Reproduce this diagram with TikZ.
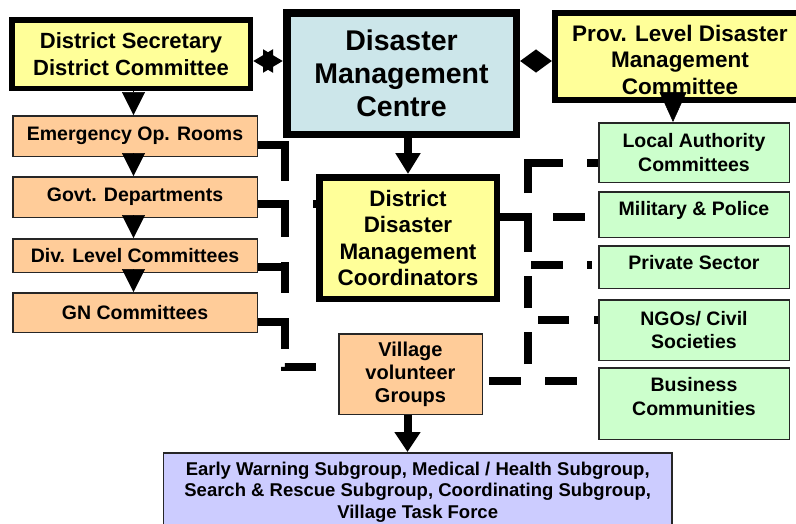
\documentclass[tikz,border=0pt]{standalone}
\usepackage{fontspec}
\setmainfont{Liberation Sans}
\usetikzlibrary{arrows.meta,positioning}

\definecolor{dsyellow}{HTML}{FFFF99}
\definecolor{dmcblue}{HTML}{CCE6EA}
\definecolor{peach}{HTML}{FFCC99}
\definecolor{mint}{HTML}{CCFFCC}
\definecolor{lavender}{HTML}{CCCCFF}

\begin{document}
\begin{tikzpicture}[x=1pt, y=-1pt,
    heavybox/.style={draw=black, inner sep=0pt, align=center},
    thinbox/.style={draw=black!85, line width=1.5pt, inner sep=0pt, align=center},
    leftbox/.style={thinbox, fill=peach, minimum width=244.5pt, font=\fontsize{19.5}{23.5}\selectfont\bfseries},
    rightbox/.style={thinbox, fill=mint, minimum width=190.5pt, font=\fontsize{19.5}{23.5}\selectfont\bfseries},
    boxtext/.style={inner sep=0pt, align=center, font=\fontsize{19.5}{23.7}\selectfont\bfseries},
    headonly/.style={line width=0.5pt, -{Triangle[length=23pt, width=23pt]}},
    linkline/.style={line width=7.5pt}
  ]
  \useasboundingbox (0,0) rectangle (796,523);
  \clip (0,0) rectangle (796,523);

  \node[heavybox, line width=5.5pt, fill=dsyellow, minimum width=238.5pt, minimum height=68.5pt,
        font=\fontsize{22}{27}\selectfont\bfseries] (ds) at (131,54) {District Secretary\\District Committee};
  \node[heavybox, line width=7.5pt, fill=dmcblue, minimum width=229.5pt, minimum height=121.5pt,
        font=\fontsize{28.5}{33}\selectfont\bfseries] (dmc) at (401.5,73.5) {Disaster\\Management\\Centre};
  \node[heavybox, line width=6pt, fill=dsyellow, minimum width=250pt, minimum height=87pt,
        font=\fontsize{22.5}{26.5}\selectfont\bfseries] (prov) at (680,56.5)
        {\rule{0pt}{22.5pt}Prov. Level Disaster\\Management\\Committee};
  \node[heavybox, line width=6.5pt, fill=dsyellow, minimum width=177.5pt, minimum height=121.5pt,
        font=\fontsize{22.4}{26.3}\selectfont\bfseries] (ddmc) at (408,238) {District\\Disaster\\Management\\Coordinators};

  \node[leftbox, minimum height=40.5pt] (eor) at (135,136) {Emergency Op. Rooms};
  \node[leftbox, minimum height=40.5pt] (govt) at (135,197) {Govt. Departments};
  \node[leftbox, minimum height=33.5pt] (div) at (135,255.5) {Div. Level Committees};
  \node[leftbox, minimum height=39.5pt] (gn) at (135,312.5) {GN Committees};

  \node[thinbox, fill=peach, minimum width=143.5pt, minimum height=80.5pt,
        font=\fontsize{20}{23}\selectfont\bfseries] (vil) at (410.5,374) {Village\\volunteer\\Groups};
  \node[thinbox, fill=lavender, minimum width=508.5pt, minimum height=78.5pt,
        font=\fontsize{18.5}{21.5}\selectfont\bfseries] (sub) at (417.7,492)
        {Early Warning Subgroup, Medical / Health Subgroup,\\Search \& Rescue Subgroup, Coordinating Subgroup,\\Village Task Force};

  \node[rightbox, minimum height=59.5pt] (la) at (694,152.5) {Local Authority\\Committees};
  \node[rightbox, minimum height=45.5pt] (mil) at (694,214.5) {};
  \node[rightbox, minimum height=42.5pt] (priv) at (694,267) {};
  \node[rightbox, minimum height=60.5pt] (ngo) at (694,330) {NGOs/ Civil\\Societies};
  \node[rightbox, minimum height=71.5pt] (bus) at (694,403.5) {};
  \node[boxtext, below=10pt of mil.north] (mil-t) {Military \& Police};
  \node[boxtext, below=10.5pt of priv.north] (priv-t) {Private Sector};
  \node[boxtext, below=10pt of bus.north] (bus-t) {Business\\Communities};

  \coordinate (topline) at (0,61);
  \draw[line width=7pt, {Triangle[length=20pt, width=22pt]}-{Triangle[length=20pt, width=22pt]}]
    (ds.east |- topline) -- (dmc.west |- topline);
  \draw[line width=7pt, {Triangle[length=16pt, width=22pt]}-{Triangle[length=16pt, width=22pt]}]
    (dmc.east |- topline) -- (prov.west |- topline);

  \draw[headonly] ([xshift=-1.5pt]ds.south -| eor.north) -- ([xshift=-1.5pt]eor.north);
  \foreach \a/\b in {eor/govt, govt/div, div/gn}
    \draw[headonly] ([xshift=-1.5pt]\a.south) -- ([xshift=-1.5pt]\b.north);
  \draw[line width=8pt, -{Triangle[length=21pt, width=24pt]}] (dmc.south -| ddmc.north) -- (ddmc.north);
  \draw[line width=8pt, -{Triangle[length=20pt, width=25pt]}] ([xshift=-3pt]vil.south) -- ([xshift=-3pt]vil.south |- sub.north);
  \draw[line width=0.5pt, -{Triangle[length=30pt, width=27pt]}] ([xshift=-7pt]prov.south) -- ([xshift=-7pt]prov.south |- la.north);

  \coordinate (jEOR) at (285,145);
  \coordinate (jGovt) at (285,204);
  \coordinate (jDiv) at (285,267);
  \coordinate (jGN) at (285,322);
  \coordinate (jVil) at (285,367);
  \draw[linkline, dash pattern=on 63pt off 22pt on 34pt off 25pt on 31pt off 25pt on 31pt off 18pt on 31pt off 40pt]
    (jEOR -| eor.east) -- (jEOR) -- (jVil) -- (jVil -| vil.west);
  \draw[linkline, dash pattern=on 31pt off 24pt] (jGovt -| govt.east) -- (jGovt -| ddmc.west);
  \foreach \b/\j in {div/jDiv, gn/jGN}
    \draw[linkline, dash pattern=on 31pt off 24pt] (\j -| \b.east) -- (\j);

  \coordinate (kD) at (528,217);
  \coordinate (kLA) at (528,163);
  \coordinate (kPriv) at (528,265);
  \coordinate (kNGO) at (528,320);
  \coordinate (kVil) at (528,381);
  \draw[linkline, dash pattern=on 29pt off 23pt on 65pt off 24pt on 20pt off 10pt]
    (kD -| ddmc.east) -- (kD) -- (kLA) -- (kLA -| la.west);
  \draw[linkline, dash pattern=on 29pt off 24pt on 32pt off 30pt] (kD -| ddmc.east) -- (kD -| mil.west);
  \draw[linkline, dash pattern=on 62pt off 17pt on 32pt off 24pt on 5pt off 20pt]
    (kD -| ddmc.east) -- (kD) -- (kPriv) -- (kPriv -| priv.west);
  \draw[linkline, dash pattern=on 62pt off 25pt on 32pt off 22pt on 31pt off 25pt on 10pt off 10pt]
    (kD -| ddmc.east) -- (kD) -- (kNGO) -- (kNGO -| ngo.west);
  \draw[linkline, dash pattern=on 32pt off 24pt, dash phase=50pt] (kVil -| vil.east) -- (kVil -| bus.west);
  \draw[linkline, dash pattern=on 32pt off 24pt, dash phase=50pt]
    (kVil -| vil.east) -- (kVil) -- (kD) -- (kD -| ddmc.east);
\end{tikzpicture}
\end{document}
